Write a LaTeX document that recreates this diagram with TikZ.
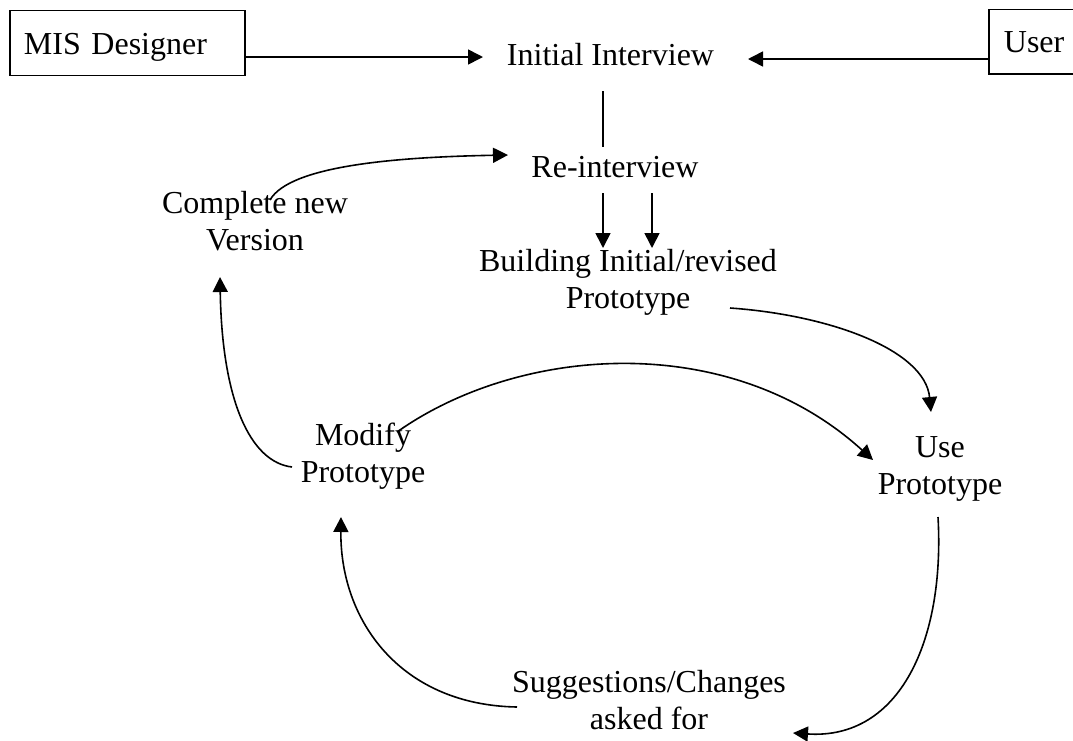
\documentclass[tikz,border=0pt]{standalone}
\usepackage{fontspec}
\setmainfont{Liberation Serif}
\usetikzlibrary{arrows.meta}
\begin{document}
\begin{tikzpicture}[x=1pt,y=-1pt,
  every node/.style={font=\fontsize{32}{36.8}\selectfont},
  lbl/.style={align=center, inner sep=0pt},
  actor/.style={draw, line width=1.8pt, align=left, inner ysep=0pt, anchor=base west},
  flow/.style={line width=1.6pt, -{Triangle[length=15pt,width=15pt]}},
  link/.style={line width=1.6pt}]
\useasboundingbox (0,0) rectangle (1073,740);

% external entities
\node[actor, text width=207pt, inner xsep=14pt, text height=43.5pt, text depth=21.5pt] (mis) at (9,54) {MIS Designer};
\node[actor, text width=80pt, inner xsep=15pt, text height=42.5pt, text depth=22pt] (user) at (988,52) {User};

% process steps
\node[lbl, anchor=base] (init) at (610.5,65) {Initial Interview};
\node[lbl, anchor=base] (reint) at (615,177) {Re-interview};
\node[lbl] (build) at (628,283) {\strut Building Initial/revised\\\strut Prototype};
\node[lbl] (complete) at (255,225) {\strut Complete new\\\strut Version};
\node[lbl] (modify) at (363,457) {\strut Modify\\\strut Prototype};
\node[lbl] (use) at (940,469) {\strut Use\\\strut Prototype};
\node[lbl] (sugg) at (649,704) {\strut Suggestions/Changes\\\strut asked for};

% interview stage
\draw[flow] ([shift={(0,3)}]mis.base east) -- ([shift={(-127.5,-8)}]init.base);
\draw[flow] ([shift={(0,7)}]user.base west) -- ([shift={(137.5,-6)}]init.base);
\draw[link] ([shift={(-7.5,26)}]init.base) -- ([shift={(-12,-30)}]reint.base);
\draw[flow] ([shift={(-12,16)}]reint.base) -- ([shift={(-25,-35)}]build.center);
\draw[flow] ([shift={(37,16)}]reint.base) -- ([shift={(24,-35)}]build.center);

% prototyping cycle
\draw[flow] ([shift={(102,25)}]build.center) .. controls +(100,7) and +(-6,-62) .. ([shift={(-9,-57)}]use.center);
\draw[flow] ([shift={(-2,48)}]use.center) .. controls +(7,123) and +(107,7) .. ([shift={(144,29)}]sugg.center);
\draw[flow] ([shift={(-132,3)}]sugg.center) .. controls +(-117,-2) and +(-1,103) .. ([shift={(-22,60)}]modify.center);
\draw[flow] ([shift={(34,-25)}]modify.center) .. controls +(123,-87) and +(-143,-130) .. ([shift={(-67,-9)}]use.center);
\draw[flow] ([shift={(-71,10)}]modify.center) .. controls +(-42,-5) and +(2,123) .. ([shift={(-35,52)}]complete.center);
\draw[flow] ([shift={(15,-25)}]complete.center) .. controls +(20,-35) and +(-108,2) .. ([shift={(-107,-22)}]reint.base);
\end{tikzpicture}
\end{document}
